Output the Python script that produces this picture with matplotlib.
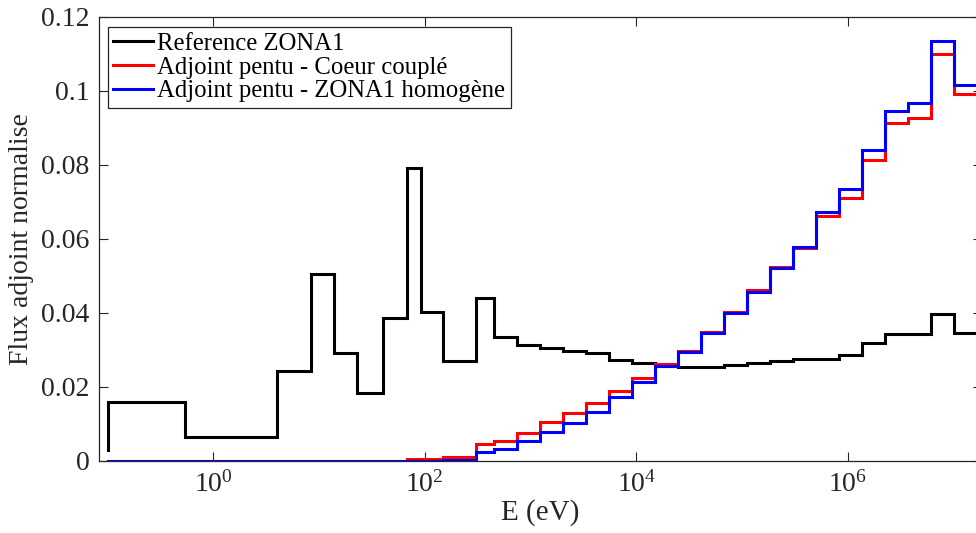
import matplotlib
matplotlib.use("Agg")
import matplotlib.pyplot as plt
from matplotlib.ticker import FixedLocator, FixedFormatter, NullLocator

# Energy group boundaries (eV), ascending
edges = [0.1, 0.54, 4.0, 8.4, 13.9, 23.0, 40.0, 67.4, 92.0, 148.0, 305.0, 454.0,
         748.0, 1230.0, 2030.0, 3350.0, 5530.0, 9120.0, 1.50e4, 2.48e4, 4.09e4,
         6.74e4, 1.11e5, 1.83e5, 3.02e5, 4.98e5, 8.21e5, 1.35e6, 2.23e6, 3.68e6,
         6.07e6, 1.0e7, 1.96e7]

# Normalised adjoint flux per group (ascending energy)
ref_zona1 = [0.0160, 0.0065, 0.0242, 0.0506, 0.0292, 0.0184, 0.0386, 0.0792,
             0.0403, 0.0269, 0.0441, 0.0336, 0.0313, 0.0305, 0.0297, 0.0291,
             0.0274, 0.0264, 0.0257, 0.0253, 0.0253, 0.0259, 0.0266, 0.0270,
             0.0275, 0.0277, 0.0286, 0.0320, 0.0343, 0.0343, 0.0396, 0.0345]
coeur_couple = [0.0, 0.0, 0.0, 0.0, 0.0, 0.0, 0.0, 0.0006,
                0.0006, 0.0012, 0.0046, 0.0055, 0.0076, 0.0105, 0.0129, 0.0158,
                0.0189, 0.0224, 0.0261, 0.0298, 0.0348, 0.0402, 0.0462, 0.0524,
                0.0575, 0.0662, 0.0711, 0.0814, 0.0913, 0.0928, 0.1100, 0.0992]
zona1_homogene = [0.0, 0.0, 0.0, 0.0, 0.0, 0.0, 0.0, 0.0,
                  0.0, 0.0004, 0.0024, 0.0032, 0.0055, 0.0079, 0.0104, 0.0133,
                  0.0174, 0.0214, 0.0257, 0.0295, 0.0347, 0.0399, 0.0458, 0.0521,
                  0.0578, 0.0674, 0.0736, 0.0841, 0.0947, 0.0967, 0.1135, 0.1016]
# value at the lowest boundary, where each staircase ends
end_values = {"ref": 0.003, "cc": 0.0, "hom": 0.0}

series_labels = ["Reference ZONA1",
                 "Adjoint pentu - Coeur couplé",
                 "Adjoint pentu - ZONA1 homogène"]
x_ticks = [1e0, 1e2, 1e4, 1e6]
x_tick_labels = [r"$10^{0}$", r"$10^{2}$", r"$10^{4}$", r"$10^{6}$"]
y_ticks = [0.0, 0.02, 0.04, 0.06, 0.08, 0.10, 0.12]
y_tick_labels = ["0", "0.02", "0.04", "0.06", "0.08", "0.1", "0.12"]

plt.rcParams["font.family"] = ["Liberation Serif", "DejaVu Serif"]
plt.rcParams["mathtext.fontset"] = "custom"
plt.rcParams["mathtext.rm"] = "Liberation Serif"
plt.rcParams["mathtext.it"] = "Liberation Serif:italic"
plt.rcParams["mathtext.bf"] = "Liberation Serif:bold"

axis_grey = "#262626"

fig = plt.figure(figsize=(9.76, 5.33), dpi=100)
ax = fig.add_axes([99 / 976, 72 / 533, 883 / 976, 444 / 533])


def staircase(values, end_value):
    # descending energy, stairs drawn from the top group downwards
    xs = edges[::-1]
    ys = values[::-1] + [end_value]
    return xs, ys


for vals, key, color, label in [
    (ref_zona1, "ref", "black", series_labels[0]),
    (coeur_couple, "cc", "red", series_labels[1]),
    (zona1_homogene, "hom", "blue", series_labels[2]),
]:
    xs, ys = staircase(vals, end_values[key])
    ax.step(xs, ys, where="post", color=color, lw=2.2, label=label,
            solid_joinstyle="miter")

ax.set_xscale("log")
ax.set_xlim(0.083, 1.86e7)
ax.set_ylim(0, 0.12)

ax.xaxis.set_major_locator(FixedLocator(x_ticks))
ax.xaxis.set_major_formatter(FixedFormatter(x_tick_labels))
ax.xaxis.set_minor_locator(NullLocator())
ax.yaxis.set_major_locator(FixedLocator(y_ticks))
ax.yaxis.set_major_formatter(FixedFormatter(y_tick_labels))

ax.tick_params(axis="both", which="major", direction="in", length=6.5,
               width=0.8, color=axis_grey, labelcolor=axis_grey,
               labelsize=20, top=True, right=True, pad=7)
for s in ax.spines.values():
    s.set_color(axis_grey)
    s.set_linewidth(0.9)

ax.set_xlabel("E (eV)", fontsize=21, color=axis_grey, labelpad=1)
ax.set_ylabel("Flux adjoint normalise", fontsize=20, color=axis_grey,
              labelpad=5)

leg = ax.legend(loc="upper left", bbox_to_anchor=((108 - 99) / 883, (461 - 27) / 444),
                borderaxespad=0, fontsize=17.8, frameon=True, fancybox=False,
                edgecolor=axis_grey, framealpha=1, handlelength=1.6,
                handletextpad=0.18, labelspacing=0.06, borderpad=0.22)
leg.get_frame().set_linewidth(0.9)
for t in leg.get_texts():
    t.set_color("black")

fig.savefig("out.png", dpi=100)
